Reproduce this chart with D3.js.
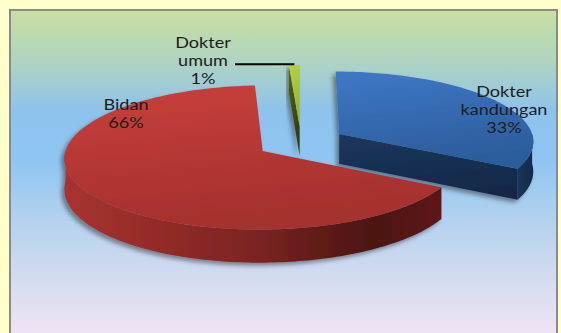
<!DOCTYPE html>
<html>
<head>
<meta charset="utf-8">
<script src="https://cdn.jsdelivr.net/npm/d3@7"></script>
<style>
  html, body { margin: 0; padding: 0; background: #FFFFCC; }
  svg { display: block; }
</style>
</head>
<body>
<svg id="chart" width="561" height="333"></svg>
<script>
// Pie data, in drawing order (clockwise from 12 o'clock)
const categories = ["Dokter kandungan", "Bidan", "Dokter umum"];
const values = [33, 66, 1];

// Styling per category
const palette = {
  "Dokter kandungan": { top: ["#3F78C6", "#2C5D9C"], face: ["#1C375E", "#132847"], wall: ["#1B3459", "#142A4A"] },
  "Bidan":            { top: ["#C9403C", "#A4302E"], face: ["#8A2725", "#5A1815"], wall: ["#A83330", "#7C2422", "#4C1411", "#5E1916"] },
  "Dokter umum":      { top: ["#B6D448", "#93B131"], face: ["#56661E", "#2E3A0C"], wall: ["#5A6A20", "#34400F"] }
};

// Label placement (text block centre, first baseline)
const labelLayout = {
  "Dokter kandungan": { x: 504, y: 97 },
  "Bidan":            { x: 126, y: 110 },
  "Dokter umum":      { x: 203, y: 48 }
};

const W = 561, H = 333;
const svg = d3.select("#chart");
const defs = svg.append("defs");

// Plot area background
const bg = defs.append("linearGradient").attr("id", "plotBg")
  .attr("x1", 0).attr("y1", 0).attr("x2", 0).attr("y2", 1);
[[0, "#C9DEA2"], [0.14, "#B2D5BE"], [0.3, "#8DC3EC"], [0.44, "#8FC5F2"],
 [0.64, "#B8D3EE"], [0.84, "#DDDEF1"], [1, "#F7E6F6"]].forEach(([o, c]) =>
  bg.append("stop").attr("offset", o).attr("stop-color", c));

svg.append("rect").attr("width", W).attr("height", H).attr("fill", "#FFFFCC");
svg.append("rect")
  .attr("x", 10).attr("y", 10).attr("width", 547).attr("height", 340)
  .attr("fill", "url(#plotBg)")
  .attr("stroke", "#8A8A8A").attr("stroke-width", 2);

// Soft shadow under each slice
const sh = defs.append("filter").attr("id", "shadow")
  .attr("x", "-20%").attr("y", "-20%").attr("width", "140%").attr("height", "140%");
sh.append("feDropShadow").attr("dx", -3).attr("dy", 3).attr("stdDeviation", 2.2)
  .attr("flood-color", "#000").attr("flood-opacity", 0.4);

// 3D projection: u = across, w = toward viewer, h = down through the thickness
const geo = { cx: 301, cy: 142.2, rx: 195, ry: 70.5, persp: 0.092, depth: 30, explode: 0.23 };
function proj(u, w, h) {
  const s = 1 + geo.persp * w;
  return [geo.cx + geo.rx * u * s, geo.cy + geo.ry * w * s + geo.depth * h * s];
}

const pie = d3.pie().sort(null).value(d => d.value).startAngle(0).endAngle(2 * Math.PI);
const data = categories.map((c, i) => ({ name: c, value: values[i] }));
const arcs = pie(data);
const total = d3.sum(values);

const line = d3.line();

arcs.forEach(a => {
  const mid = (a.startAngle + a.endAngle) / 2;
  a.ou = geo.explode * Math.sin(mid);
  a.ow = -geo.explode * Math.cos(mid);
  a.pt = (theta, r, h) => proj(a.ou + r * Math.sin(theta), a.ow - r * Math.cos(theta), h);
});

function rim(a, t0, t1, h) {
  const n = Math.max(2, Math.ceil((t1 - t0) / 0.02));
  return d3.range(n + 1).map(i => a.pt(t0 + (t1 - t0) * i / n, 1, h));
}

function grad(id, stops, horizontal) {
  const g = defs.append("linearGradient").attr("id", id)
    .attr("x1", 0).attr("y1", 0)
    .attr("x2", horizontal ? 1 : 0.25).attr("y2", horizontal ? 0 : 1);
  const offs = stops.length === 4 ? [0, 0.5, 0.82, 1] : stops.map((c, i) => i / Math.max(1, stops.length - 1));
  stops.forEach((c, i) => g.append("stop").attr("offset", offs[i]).attr("stop-color", c));
  return `url(#${id})`;
}

// Farther slices first
const order = arcs.slice().sort((p, q) => p.ow - q.ow);

order.forEach((a, k) => {
  const pal = palette[a.data.name];
  const g = svg.append("g").attr("filter", "url(#shadow)");
  const a0 = a.startAngle, a1 = a.endAngle;

  // outer wall on the near half (lit from the left)
  const lo = Math.max(a0, Math.PI / 2), hi = Math.min(a1, 3 * Math.PI / 2);
  if (hi > lo) {
    const pts = rim(a, lo, hi, 0).concat(rim(a, lo, hi, 1).reverse());
    g.append("path").attr("d", line(pts) + "Z")
      .attr("fill", grad("wall" + k, pal.wall, true));
  }

  // cut faces that turn toward the viewer
  const face = (theta) => [a.pt(0, 0, 0), a.pt(theta, 1, 0), a.pt(theta, 1, 1), a.pt(0, 0, 1)];
  if (Math.sin(a0) < -1e-6) {
    g.append("path").attr("d", line(face(a0)) + "Z")
      .attr("fill", grad("fs" + k, pal.face, false));
  }
  if (Math.sin(a1) > 1e-6) {
    g.append("path").attr("d", line(face(a1)) + "Z")
      .attr("fill", grad("fe" + k, pal.face, false));
  }

  // top surface
  const topPts = [a.pt(0, 0, 0)].concat(rim(a, a0, a1, 0));
  g.append("path").attr("d", line(topPts) + "Z")
    .attr("fill", grad("top" + k, pal.top, false));
});

// Labels
const labels = svg.append("g")
  .attr("font-family", "Lato, 'Open Sans', sans-serif")
  .attr("font-size", 14.8)
  .attr("fill", "#1C1C1C")
  .attr("text-anchor", "middle");

arcs.forEach(a => {
  const pos = labelLayout[a.data.name];
  const lines = a.data.name.split(" ").concat([Math.round(a.data.value / total * 100) + "%"]);
  const t = labels.append("text")
    .attr("transform", `translate(${pos.x},${pos.y}) scale(1.22,1)`);
  lines.forEach((s, i) => t.append("tspan").attr("x", 0).attr("y", i * 18).text(s));
});

// Leader line for the thin slice
const thin = arcs.find(a => a.data.name === "Dokter umum");
const tip = thin.pt((thin.startAngle + thin.endAngle) / 2, 1, 0);
svg.append("line")
  .attr("x1", 235).attr("y1", tip[1] - 1)
  .attr("x2", tip[0]).attr("y2", tip[1] - 1)
  .attr("stroke", "#000").attr("stroke-width", 2);
</script>
</body>
</html>
